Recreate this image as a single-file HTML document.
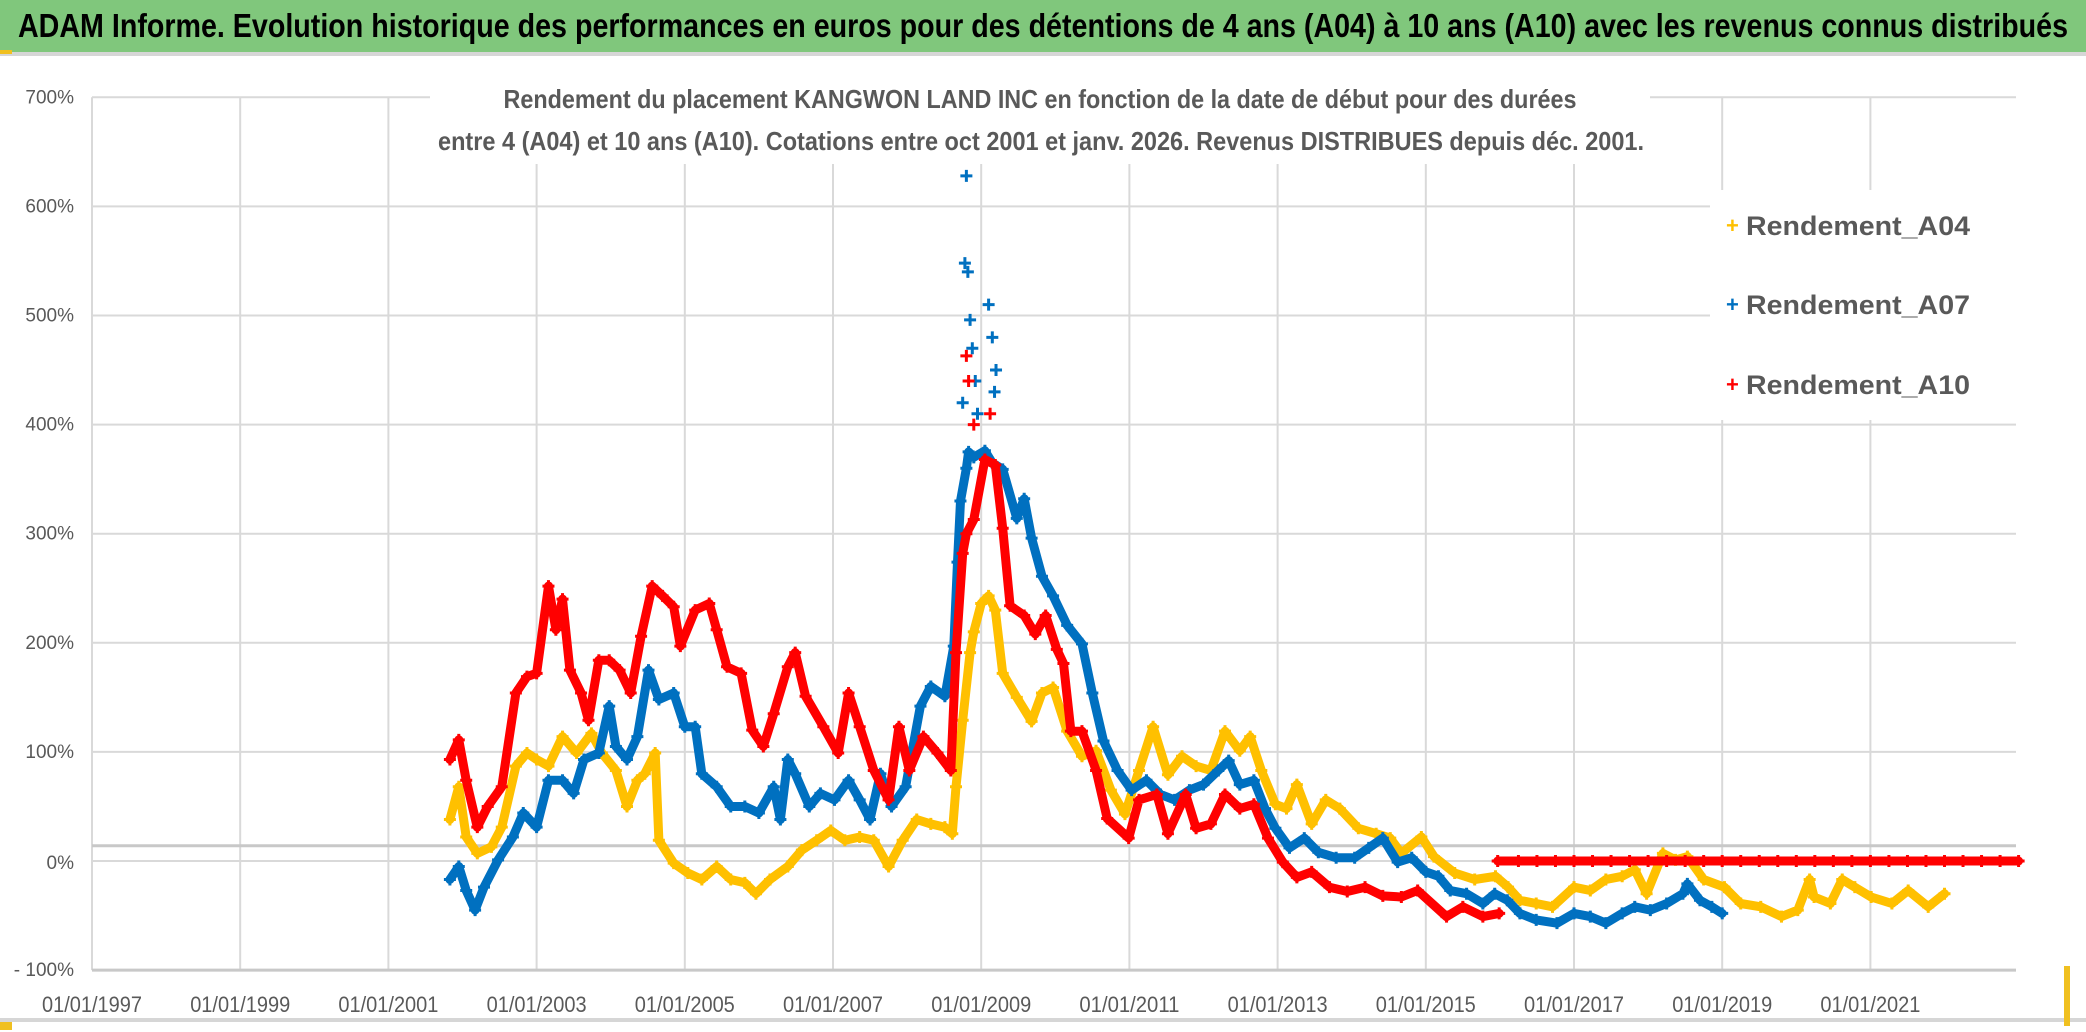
<!DOCTYPE html>
<html><head><meta charset="utf-8"><style>
html,body{margin:0;padding:0;background:#fff;}
svg{display:block;font-family:"Liberation Sans",sans-serif;}
</style></head><body>
<svg id="chart" width="2086" height="1032" viewBox="0 0 2086 1032">
<rect x="0" y="0" width="2086" height="1032" fill="#fff"/>
<rect x="0" y="0" width="2086" height="52" fill="#80c77c"/>
<rect x="0" y="52" width="2086" height="4" fill="#d6d6d6"/>
<rect x="0" y="50" width="12" height="4" fill="#f0c020"/>
<text x="1043" y="37" text-anchor="middle" font-size="33" font-weight="bold" fill="#000" textLength="2050" lengthAdjust="spacingAndGlyphs">ADAM Informe. Evolution historique des performances en euros pour des détentions de 4 ans (A04) à 10 ans (A10) avec les revenus connus distribués</text>
<g id="grid"></g>
<g id="series"></g>
<rect x="430" y="72" width="1220" height="92" fill="#fff"/>
<text x="1040" y="108" text-anchor="middle" font-size="26" fill="#595959" font-weight="bold" textLength="1073" lengthAdjust="spacingAndGlyphs">Rendement du placement KANGWON LAND INC en fonction de la date de début pour des durées</text>
<text x="1041" y="150" text-anchor="middle" font-size="26" fill="#595959" font-weight="bold" textLength="1206" lengthAdjust="spacingAndGlyphs">entre 4 (A04) et 10 ans (A10). Cotations entre oct 2001 et janv. 2026. Revenus DISTRIBUES depuis déc. 2001.</text>
<g>
<rect x="1710" y="190" width="306" height="230" fill="#fff"/>
<g><text x="1726" y="233" font-size="22" fill="#ffc000" font-weight="bold">+</text><text x="1746" y="235" font-size="27" fill="#595959" font-weight="bold" textLength="224" lengthAdjust="spacingAndGlyphs">Rendement_A04</text></g>
<g><text x="1726" y="312" font-size="22" fill="#0070c0" font-weight="bold">+</text><text x="1746" y="314" font-size="27" fill="#595959" font-weight="bold" textLength="224" lengthAdjust="spacingAndGlyphs">Rendement_A07</text></g>
<g><text x="1726" y="392" font-size="22" fill="#ff0000" font-weight="bold">+</text><text x="1746" y="394" font-size="27" fill="#595959" font-weight="bold" textLength="224" lengthAdjust="spacingAndGlyphs">Rendement_A10</text></g>
</g>
<rect x="0" y="1018" width="2086" height="4" fill="#d6d6d6"/>
<rect x="0" y="1022" width="12" height="8" fill="#f0c020"/>
<rect x="2064" y="966" width="6" height="60" fill="#f0c020"/>
</svg>
<script>
const yTicks=[-100,0,100,200,300,400,500,600,700];
const yTickLabels=["- 100%","0%","100%","200%","300%","400%","500%","600%","700%"];
const xTicks=[1997,1999,2001,2003,2005,2007,2009,2011,2013,2015,2017,2019,2021];
const xTickLabels=["01/01/1997","01/01/1999","01/01/2001","01/01/2003","01/01/2005","01/01/2007","01/01/2009","01/01/2011","01/01/2013","01/01/2015","01/01/2017","01/01/2019","01/01/2021"];
const a04Years=[2001.83,2001.95,2002.05,2002.2,2002.39,2002.53,2002.72,2002.87,2003.0,2003.16,2003.35,2003.54,2003.74,2003.88,2004.07,2004.22,2004.36,2004.46,2004.6,2004.65,2004.85,2005.04,2005.23,2005.43,2005.62,2005.81,2005.96,2006.15,2006.39,2006.58,2006.78,2006.97,2007.16,2007.36,2007.55,2007.75,2007.94,2008.13,2008.32,2008.51,2008.61,2008.66,2008.75,2008.85,2008.9,2009.0,2009.1,2009.19,2009.29,2009.48,2009.68,2009.82,2009.97,2010.16,2010.36,2010.55,2010.75,2010.94,2011.13,2011.32,2011.52,2011.71,2011.9,2012.1,2012.29,2012.49,2012.63,2012.78,2012.97,2013.12,2013.26,2013.46,2013.65,2013.84,2014.09,2014.33,2014.52,2014.67,2014.94,2015.11,2015.39,2015.66,2015.94,2016.11,2016.27,2016.49,2016.71,2017.0,2017.22,2017.43,2017.65,2017.82,2017.98,2018.2,2018.37,2018.53,2018.75,2019.03,2019.25,2019.52,2019.8,2020.02,2020.18,2020.24,2020.46,2020.62,2020.79,2021.01,2021.29,2021.51,2021.78,2022.0];
const a04Values=[38,68,22,7,13,31,87,99,93,87,114,99,117,99,83,50,74,80,99,19,-2,-11,-17,-5,-17,-20,-30,-17,-5,10,19,28,19,22,19,-5,19,38,34,31,25,68,129,191,210,236,243,230,172,150,128,154,159,119,96,101,65,43,83,123,79,96,87,83,119,101,114,83,52,48,70,34,56,48,30,25,21,7,22,4,-11,-17,-14,-24,-36,-39,-42,-24,-27,-17,-14,-8,-30,7,1,4,-17,-24,-39,-42,-51,-45,-17,-33,-39,-17,-24,-33,-39,-27,-42,-30];
const a07Years=[2001.83,2001.95,2002.05,2002.17,2002.29,2002.48,2002.68,2002.82,2003.0,2003.16,2003.35,2003.5,2003.64,2003.84,2003.98,2004.07,2004.22,2004.36,2004.51,2004.65,2004.85,2005.0,2005.14,2005.23,2005.43,2005.62,2005.81,2006.0,2006.2,2006.29,2006.39,2006.49,2006.68,2006.83,2007.02,2007.21,2007.36,2007.5,2007.64,2007.79,2007.98,2008.18,2008.32,2008.51,2008.63,2008.68,2008.72,2008.8,2008.83,2008.9,2009.05,2009.15,2009.29,2009.48,2009.58,2009.68,2009.82,2009.97,2010.16,2010.36,2010.5,2010.65,2010.84,2011.03,2011.23,2011.42,2011.61,2011.81,2012.0,2012.2,2012.34,2012.49,2012.68,2012.83,2012.97,2013.16,2013.36,2013.55,2013.79,2014.04,2014.23,2014.42,2014.62,2014.81,2015.0,2015.17,2015.33,2015.55,2015.77,2015.93,2016.1,2016.27,2016.49,2016.77,2017.0,2017.22,2017.43,2017.65,2017.82,2018.03,2018.25,2018.47,2018.53,2018.7,2018.86,2019.0];
const a07Values=[-17,-5,-27,-45,-24,1,22,44,31,74,74,62,93,99,142,105,93,114,175,148,154,123,123,80,68,50,50,44,68,38,93,80,50,62,56,74,56,38,80,50,68,142,160,151,197,274,330,360,375,370,376,365,359,314,332,296,261,243,216,199,154,110,83,65,74,61,56,65,70,83,92,70,74,48,30,12,21,8,3,3,12,21,-1,3,-10,-14,-27,-30,-39,-30,-36,-48,-54,-57,-48,-51,-57,-48,-42,-45,-39,-30,-21,-36,-42,-48];
const a07OutlierYears=[2008.78,2008.8,2008.82,2008.85,2008.88,2008.92,2009.1,2009.15,2009.18,2009.2,2008.75,2008.95];
const a07OutlierValues=[548,628,540,496,470,440,510,480,430,450,420,410];
const a10OutlierYears=[2008.8,2008.83,2009.12,2008.9];
const a10OutlierValues=[463,440,410,400];
const a10Years=[2001.83,2001.95,2002.05,2002.2,2002.34,2002.53,2002.72,2002.87,2003.0,2003.16,2003.26,2003.35,2003.45,2003.6,2003.7,2003.84,2003.98,2004.12,2004.27,2004.41,2004.56,2004.7,2004.85,2004.94,2005.14,2005.33,2005.43,2005.57,2005.76,2005.91,2006.06,2006.2,2006.39,2006.49,2006.63,2006.87,2007.07,2007.21,2007.36,2007.55,2007.75,2007.89,2008.03,2008.22,2008.41,2008.59,2008.66,2008.75,2008.8,2008.9,2009.05,2009.19,2009.29,2009.39,2009.58,2009.73,2009.87,2010.02,2010.11,2010.21,2010.36,2010.55,2010.7,2010.99,2011.13,2011.37,2011.52,2011.76,2011.9,2012.1,2012.29,2012.49,2012.68,2012.87,2013.07,2013.26,2013.46,2013.7,2013.94,2014.18,2014.42,2014.67,2014.89,2015.28,2015.5,2015.77,2015.99];
const a10Values=[93,111,74,31,50,68,154,169,172,252,212,240,175,154,129,184,184,175,154,206,252,243,233,197,230,236,212,178,172,120,105,135,178,191,151,123,99,154,123,83,56,123,83,114,99,83,191,282,300,313,368,363,305,234,225,208,225,194,181,119,119,83,39,21,56,61,25,61,30,34,61,48,52,21,-1,-15,-10,-24,-28,-24,-32,-33,-27,-51,-42,-51,-48];
const a10FlatYears=[2015.97,2016.25,2016.5,2016.75,2017.0,2017.25,2017.5,2017.75,2018.0,2018.25,2018.5,2018.75,2019.0,2019.25,2019.5,2019.75,2020.0,2020.25,2020.5,2020.75,2021.0,2021.25,2021.5,2021.75,2022.0,2022.25,2022.5,2022.75,2023.0];
const a10FlatValues=[0,0,0,0,0,0,0,0,0,0,0,0,0,0,0,0,0,0,0,0,0,0,0,0,0,0,0,0,0];

const NS="http://www.w3.org/2000/svg";
const X0=92,Y0=861;
function xs(t){return X0+(t-1997)*74.1;}
function ys(v){return Y0-v*1.091;}
function mk(tag,attrs,parent){const e=document.createElementNS(NS,tag);for(const k in attrs)e.setAttribute(k,attrs[k]);parent.appendChild(e);return e;}
const grid=document.getElementById('grid');
const plotL=92,plotR=2016,plotT=ys(700),plotB=ys(-100);
xTicks.forEach((t,i)=>{
  const l=mk('line',{x1:xs(t),x2:xs(t),y1:plotT,y2:plotB,stroke:'#d9d9d9','stroke-width':2},grid);
  
  
  const tx=mk('text',{x:xs(t),y:1012,'text-anchor':'middle','font-size':22,fill:'#595959',textLength:100,lengthAdjust:'spacingAndGlyphs'},grid);
  tx.textContent=xTickLabels[i];
  
  
});
yTicks.forEach((v,i)=>{
  const l=mk('line',{x1:plotL,x2:plotR,y1:ys(v),y2:ys(v),stroke:v===-100?'#c8c8c8':'#d9d9d9','stroke-width':v===-100?3:2},grid);
  
  
  const tx=mk('text',{x:74,y:ys(v)+(v===0?8:6),'text-anchor':'end','font-size':19,fill:'#595959'},grid);
  tx.textContent=yTickLabels[i];
  
  
});
const hl=mk('line',{x1:plotL,x2:plotR,y1:ys(14),y2:ys(14),stroke:'#c8c8c8','stroke-width':3},grid);



const sg=document.getElementById('series');
function drawMarkers(years,vals,color,g){
  years.forEach((t,i)=>{
    const x=xs(t),y=ys(vals[i]);
    const p=mk('path',{d:`M${x-6},${y}H${x+6}M${x},${y-6}V${y+6}`,stroke:color,'stroke-width':3},g);
    
    
  });
}
function drawSeries(years,vals,color,name,lw){
  const g=mk('g',{},sg);
  
  
  const pts=years.map((t,i)=>xs(t).toFixed(1)+','+ys(vals[i]).toFixed(1)).join(' ');
  mk('polyline',{points:pts,fill:'none',stroke:color,'stroke-width':lw,'stroke-linejoin':'round','stroke-linecap':'round'},g);
  drawMarkers(years,vals,color,g);
  return g;
}
drawSeries(a04Years,a04Values,'#ffc000','series-a04',9);
const g07=drawSeries(a07Years,a07Values,'#0070c0','series-a07',9);
drawMarkers(a07OutlierYears,a07OutlierValues,'#0070c0',g07);
const g10=drawSeries(a10Years,a10Values,'#ff0000','series-a10',9);
drawMarkers(a10OutlierYears,a10OutlierValues,'#ff0000',g10);
drawSeries(a10FlatYears,a10FlatValues,'#ff0000','series-a10-flat',9);
</script>
</body></html>
